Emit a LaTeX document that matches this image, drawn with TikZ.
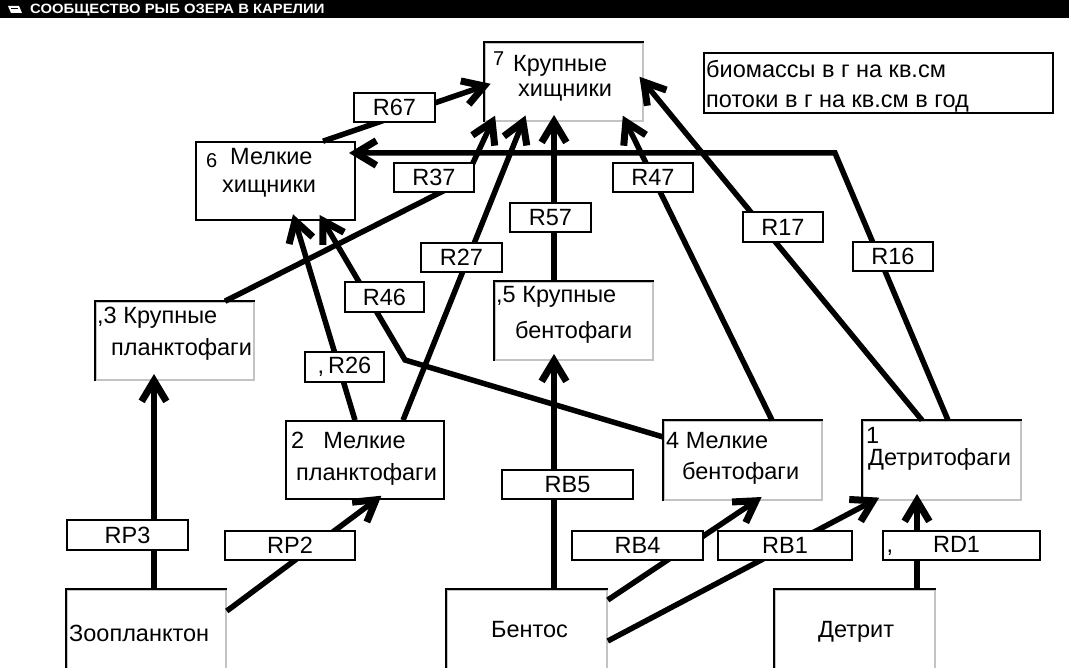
\documentclass[tikz,border=0pt]{standalone}
\usepackage{fontspec}
\usetikzlibrary{calc}
\newfontfamily\diagfont[FakeStretch=1.0]{Liberation Sans}
\newfontfamily\headfont[FakeStretch=1.1]{Liberation Sans}
\newcommand\txtfont{\diagfont\fontsize{23.5}{23.5}\selectfont}
\newcommand\numfont{\diagfont\fontsize{20}{20}\selectfont}
\newcommand\headerfont{\headfont\bfseries\fontsize{13.5}{13.5}\selectfont}
\definecolor{edgegray}{RGB}{195,195,195}
% open V head at #2, pointing away from #1
\newcommand\headat[2]{\draw[vhead] ($(#2)!24pt!31:(#1)$) -- (#2) -- ($(#2)!24pt!-31:(#1)$);}
\begin{document}
\begin{tikzpicture}[x=1pt,y=-1pt,
  link/.style={line width=5.5pt, line join=miter},
  vhead/.style={line width=7pt, line join=miter, miter limit=4},
  panel/.style={draw=edgegray, fill=white, line width=1.6pt, inner sep=0,
    minimum width=158pt, minimum height=78pt},
  darkpanel/.style={panel, draw=black},
  darkedge/.style={draw=black, line width=1.6pt},
  tag/.style={draw=black, fill=white, line width=1.2pt, inner sep=0,
    minimum width=80pt, minimum height=29pt, font=\txtfont},
  txt/.style={inner sep=0, anchor=base west, font=\txtfont},
  num/.style={inner sep=0, anchor=base west, font=\numfont}]
\useasboundingbox (0,0) rectangle (1069,668);
\clip (0,0) rectangle (1069,668);

% window title bar
\fill[black] (0,0) rectangle (1069,18);
\fill[white] (8,6) -- (19,6) -- (22,13) -- (11,13) -- cycle;
\fill[black] (11,8) rectangle (18,9.5);
\node[anchor=base west, inner sep=0, text=white, font=\headerfont] (title) at (30,14) {СООБЩЕСТВО РЫБ ОЗЕРА В КАРЕЛИИ};

% compartments
\node[panel] (n7) at (564,82) {};
\node[darkpanel, minimum width=159pt] (n6) at (275.5,181) {};
\node[panel] (n3) at (175,341) {};
\node[panel] (n5) at (574,321) {};
\node[darkpanel] (n2) at (365,460) {};
\node[panel, minimum height=79pt] (n4) at (743,460.5) {};
\node[panel, minimum height=79pt] (n1) at (942,460.5) {};
\node[panel, minimum width=159pt, minimum height=86pt] (zoo) at (146.5,633) {};
\node[panel, minimum width=160pt, minimum height=86pt] (ben) at (527,633) {};
\node[panel, minimum width=160pt, minimum height=86pt] (det) at (855,633) {};
\foreach \p in {n7,n3,n5,n4,n1,zoo,ben,det}
  \draw[darkedge] (\p.south west) -- (\p.north west) -- (\p.north east);

% legend
\node[draw=black, line width=1.2pt, inner sep=0, minimum width=349pt, minimum height=60pt] (legend) at (878.5,83) {};
\node[txt] (leg1) at (706,78) {биомассы в г на кв.см};
\node[txt] (leg2) at (706,108) {потоки в г на кв.см в год};

% compartment texts
\node[num] (n7num) at (493,66) {7};
\node[txt] (n7a) at (513,72) {Крупные};
\node[txt] (n7b) at (518,97) {хищники};
\node[num] (n6num) at (206,168) {6};
\node[txt] (n6a) at (230,165) {Мелкие};
\node[txt] (n6b) at (222,193) {хищники};
\node[txt] (n3a) at (97,324) {,3 Крупные};
\node[txt] (n3b) at (111,356) {планктофаги};
\node[txt] (n5a) at (496,303) {,5 Крупные};
\node[txt] (n5b) at (515,339) {бентофаги};
\node[txt] (n2a) at (291,449) {2\hspace{19pt}Мелкие};
\node[txt] (n2b) at (296,480) {планктофаги};
\node[txt] (n4a) at (666,448) {4 Мелкие};
\node[txt] (n4b) at (682,479) {бентофаги};
\node[txt] (n1a) at (866,443) {1};
\node[txt] (n1b) at (868,465) {Детритофаги};
\node[txt] (zooT) at (69,641) {Зоопланктон};
\node[txt] (benT) at (491,637) {Бентос};
\node[txt] (detT) at (818,637) {Детрит};

% flow end points
\coordinate (sP3) at ([xshift=7.5pt]zoo.north);   \coordinate (tP3) at ([xshift=-21pt]n3.south);
\coordinate (sP2) at ([yshift=22pt]zoo.east);     \coordinate (tP2) at ([xshift=11pt]n2.south);
\coordinate (sB5) at ([xshift=27pt]ben.north);    \coordinate (tB5) at ([xshift=-20pt]n5.south);
\coordinate (sB4) at ([yshift=33pt]ben.east);     \coordinate (tB4) at ([xshift=13pt]n4.south);
\coordinate (sB1) at ([yshift=-8pt]ben.east);     \coordinate (tB1) at ([xshift=11pt]n1.south west);
\coordinate (sD1) at ([xshift=62pt]det.north);    \coordinate (tD1) at ([xshift=-25pt]n1.south);
\coordinate (s57) at ([xshift=-20pt]n5.north);    \coordinate (t57) at ([xshift=-10pt]n7.south);
\coordinate (s47) at ([xshift=29pt]n4.north);     \coordinate (t47) at ([xshift=-18pt]n7.south east);
\coordinate (s17) at ([xshift=-20pt]n1.north);    \coordinate (t17) at (n7.east);
\coordinate (s16) at ([xshift=6pt]n1.north);      \coordinate (t16) at ([yshift=28pt]n6.east);
\coordinate (s67) at ([xshift=47.5pt]n6.north);   \coordinate (t67) at ([yshift=-4pt]n7.west);
\coordinate (s37) at ([xshift=50pt]n3.north);     \coordinate (t37) at ([xshift=8pt]n7.south west);
\coordinate (s27) at ([xshift=38pt]n2.north);     \coordinate (t27) at ([xshift=-41pt]n7.south);
\coordinate (s26) at ([xshift=-10pt]n2.north);    \coordinate (t26) at ([xshift=19.5pt]n6.south);
\coordinate (s46) at ([yshift=23.5pt]n4.west);    \coordinate (t46) at ([xshift=47.5pt]n6.south);
\coordinate (bend16) at (835,153);
\coordinate (bend37) at (465,180);
\coordinate (bend46) at (405,360);

% flows
\draw[link] (sP3) -- (tP3); \headat{sP3}{tP3}
\draw[link] (sP2) -- (tP2); \headat{sP2}{tP2}
\draw[link] (sB5) -- (tB5); \headat{sB5}{tB5}
\draw[link] (sB4) -- (tB4); \headat{sB4}{tB4}
\draw[link] (sB1) -- (tB1); \headat{sB1}{tB1}
\draw[link] (sD1) -- (tD1); \headat{sD1}{tD1}
\draw[link] (s57) -- (t57); \headat{s57}{t57}
\draw[link] (s47) -- (t47); \headat{s47}{t47}
\draw[link] (s17) -- (t17); \headat{s17}{t17}
\draw[link] (s16) -- (bend16) -- (t16); \headat{bend16}{t16}
\draw[link] (s67) -- (t67); \headat{s67}{t67}
\draw[link] (s37) -- (bend37) -- (t37); \headat{bend37}{t37}
\draw[link] (s27) -- (t27); \headat{s27}{t27}
\draw[link] (s26) -- (t26); \headat{s26}{t26}
\draw[link] (s46) -- (bend46) -- (t46); \headat{bend46}{t46}

% flow labels
\node[tag, minimum width=81pt] (R67) at (394.5,107.5) {R67};
\node[tag] (R37) at (434,177.5) {R37};
\node[tag, minimum width=81pt] (R57) at (550.5,217.5) {R57};
\node[tag] (R47) at (653,177.5) {R47};
\node[tag, minimum height=30pt] (R17) at (783,227) {R17};
\node[tag] (R16) at (893,256.5) {R16};
\node[tag, minimum width=81pt] (R27) at (461.5,257.5) {R27};
\node[tag, minimum width=79pt, minimum height=30pt] (R46) at (384.5,297) {R46};
\node[tag, minimum width=79pt, minimum height=30pt] (R26) at (344.5,367) {,\,R26\hspace{8pt}};
\node[tag, minimum width=131pt] (RB5) at (567.5,484.5) {RB5\hspace{22pt}};
\node[tag, minimum width=121pt, minimum height=30pt] (RP3) at (127.5,535) {RP3};
\node[tag, minimum width=130pt] (RP2) at (290,545.5) {RP2};
\node[tag, minimum width=131pt] (RB4) at (637.5,545.5) {RB4};
\node[tag, minimum width=134pt] (RB1) at (785,545.5) {RB1};
\node[tag, minimum width=157pt] (RD1) at (961.5,545.5) {\makebox[150pt][l]{,\hspace{40pt}RD1}};
\end{tikzpicture}
\end{document}
